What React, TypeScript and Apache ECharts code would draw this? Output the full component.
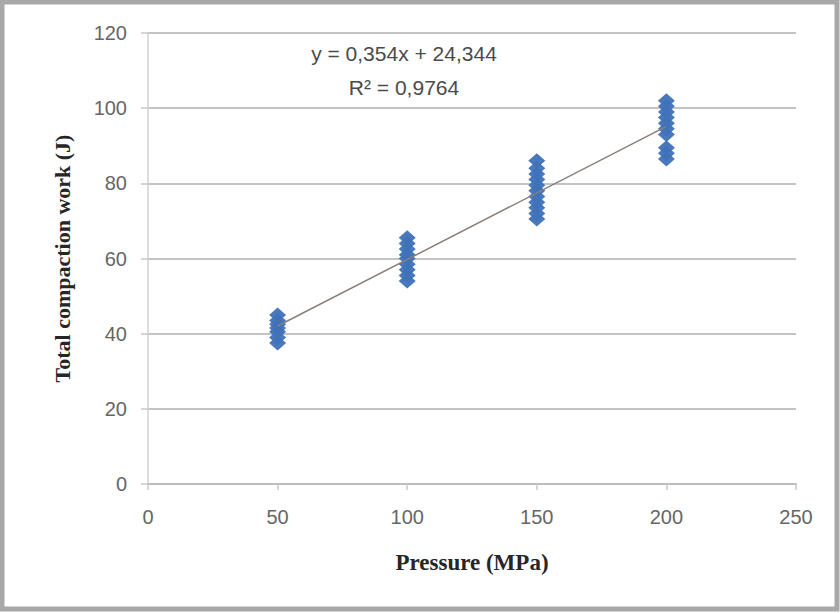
import React, { useEffect, useRef } from "react";
import * as echarts from "echarts";

const xTicks = [0, 50, 100, 150, 200, 250];
const yTicks = [0, 20, 40, 60, 80, 100, 120];

const p50 = [37.5, 39, 40.5, 41.5, 42.5, 43.5, 45];
const p100 = [54, 55.5, 57, 58.5, 60, 61, 62.5, 64, 65.5];
const p150 = [70.5, 72, 73.5, 75, 76.5, 78, 79.5, 81, 82.5, 84, 86];
const p200 = [86.5, 88, 89.5, 93, 94.5, 96, 97.5, 99, 100.5, 102];

const trendX = [50, 200];
const trendY = [42.04, 95.14];

const eqLine1 = "y = 0,354x + 24,344";
const eqLine2 = "R² = 0,9764";

export default function App() {
  const ref = useRef<HTMLDivElement>(null);
  useEffect(() => {
    if (!ref.current) return;
    const chart = echarts.init(ref.current, undefined, { renderer: "svg" });
    const pts: number[][] = [];
    p50.forEach((v) => pts.push([50, v]));
    p100.forEach((v) => pts.push([100, v]));
    p150.forEach((v) => pts.push([150, v]));
    p200.forEach((v) => pts.push([200, v]));
    chart.setOption({
      animation: false,
      backgroundColor: "#ffffff",
      grid: { left: 148, top: 33, width: 648, height: 451 },
      xAxis: {
        type: "value",
        min: xTicks[0],
        max: xTicks[xTicks.length - 1],
        interval: 50,
        name: "Pressure (MPa)",
        nameLocation: "middle",
        nameGap: 67,
        nameTextStyle: {
          fontFamily: "Liberation Serif",
          fontWeight: "bold",
          fontSize: 23,
          color: "#262626",
        },
        axisLine: { show: true, lineStyle: { color: "#bdbdbd", width: 2 } },
        axisTick: { show: true, length: 6, lineStyle: { color: "#c8c8c8", width: 1.5 } },
        axisLabel: {
          color: "#666666",
          fontFamily: "Liberation Sans",
          fontSize: 20,
          margin: 23,
        },
        splitLine: { show: false },
      },
      yAxis: {
        type: "value",
        min: yTicks[0],
        max: yTicks[yTicks.length - 1],
        interval: 20,
        name: "Total compaction work (J)",
        nameLocation: "middle",
        nameGap: 75,
        nameTextStyle: {
          fontFamily: "Liberation Serif",
          fontWeight: "bold",
          fontSize: 22,
          color: "#262626",
        },
        axisLine: { show: true, lineStyle: { color: "#d0d0d0", width: 1.5 } },
        axisTick: { show: true, length: 7, lineStyle: { color: "#c8c8c8", width: 1.5 } },
        axisLabel: {
          color: "#666666",
          fontFamily: "Liberation Sans",
          fontSize: 20,
          margin: 21,
        },
        splitLine: { show: true, lineStyle: { color: "#c4c4c4", width: 2 } },
      },
      series: [
        {
          type: "scatter",
          data: pts,
          symbol: "diamond",
          symbolSize: [17, 15],
          itemStyle: { color: "#3f72b8", opacity: 0.95 },
          z: 2,
        },
        {
          type: "line",
          data: trendX.map((x, i) => [x, trendY[i]]),
          symbol: "none",
          lineStyle: { color: "#8a7f78", width: 1.5 },
          z: 3,
        },
      ],
      graphic: [
        {
          type: "text",
          x: 404,
          y: 53,
          style: {
            text: eqLine1,
            font: "21px 'Liberation Sans'",
            fill: "#4a4a4a",
            textAlign: "center",
            textVerticalAlign: "middle",
          },
        },
        {
          type: "text",
          x: 404,
          y: 87,
          style: {
            text: eqLine2,
            font: "21px 'Liberation Sans'",
            fill: "#4a4a4a",
            textAlign: "center",
            textVerticalAlign: "middle",
          },
        },
        {
          type: "rect",
          shape: { x: 2, y: 2, width: 835, height: 607 },
          style: { fill: "none", stroke: "#a8a8a8", lineWidth: 5 },
        },
      ],
    });
    return () => chart.dispose();
  }, []);
  return (
    <div
      ref={ref}
      style={{ position: "fixed", left: 0, top: 0, width: 840, height: 613 }}
    />
  );
}
